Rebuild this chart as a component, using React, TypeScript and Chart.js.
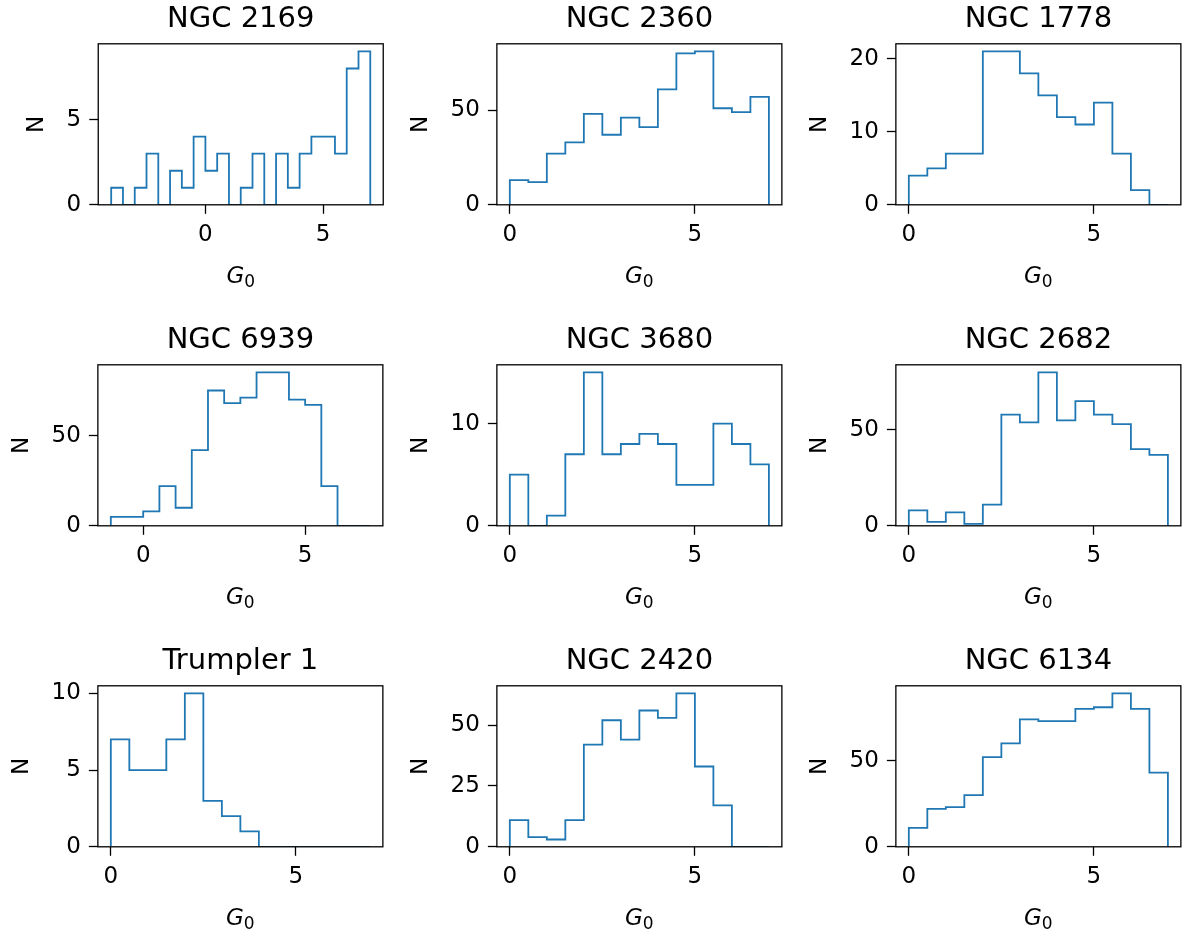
import React, { useEffect, useRef } from "react";
import { Chart, registerables } from "chart.js";

Chart.register(...registerables);

// ---- data (histogram counts, bin width 0.5) ----
const panelTitles = [
  "NGC 2169", "NGC 2360", "NGC 1778",
  "NGC 6939", "NGC 3680", "NGC 2682",
  "Trumpler 1", "NGC 2420", "NGC 6134",
];
const ngc2169Counts = [1, 0, 1, 3, 0, 2, 1, 4, 2, 3, 0, 1, 3, 0, 3, 1, 3, 4, 4, 3, 8, 9];
const ngc2360Counts = [13, 12, 27, 33, 48, 37, 46, 41, 61, 80, 81, 51, 49, 57];
const ngc1778Counts = [4, 5, 7, 7, 21, 21, 18, 15, 12, 11, 14, 7, 2, 0];
const ngc6939Counts = [5, 5, 8, 22, 10, 42, 75, 68, 71, 85, 85, 70, 67, 22, 0, 0];
const ngc3680Counts = [5, 0, 1, 7, 15, 7, 8, 9, 8, 4, 4, 10, 8, 6];
const ngc2682Counts = [8, 2, 7, 1, 11, 58, 54, 80, 55, 65, 58, 53, 40, 37];
const trumpler1Counts = [7, 5, 5, 7, 10, 3, 2, 1, 0, 0, 0, 0, 0, 0];
const ngc2420Counts = [11, 4, 3, 11, 42, 52, 44, 56, 53, 63, 33, 17, 0, 0];
const ngc6134Counts = [11, 22, 23, 30, 52, 60, 74, 73, 73, 80, 81, 89, 80, 43];

const panelCounts = [
  ngc2169Counts, ngc2360Counts, ngc1778Counts,
  ngc6939Counts, ngc3680Counts, ngc2682Counts,
  trumpler1Counts, ngc2420Counts, ngc6134Counts,
];
const binStarts = [-4, 0, 0, -1, 0, 0, 0, 0, 0];
const binWidth = 0.5;

const xTickValues = [0, 5];
const yTickValues = [
  [0, 5], [0, 50], [0, 10, 20],
  [0, 50], [0, 10], [0, 50],
  [0, 5, 10], [0, 25, 50], [0, 50],
];
const xAxisLabelMain = "G";
const xAxisLabelSub = "0";
const yAxisLabel = "N";

// ---- layout ----
const COL_LEFT = [98, 497, 896];
const ROW_TOP = [44, 365, 686];
const AX_W = 285;
const AX_H = 161;
const CW = 420;
const CH = 320;
const FONT = "'DejaVu Sans', sans-serif";
const LINE_COLOR = "#1f77b4";

function stepPoints(counts: number[], start: number) {
  const edges = counts.map((_, i) => start + i * binWidth);
  edges.push(start + counts.length * binWidth);
  const pts: { x: number; y: number }[] = [{ x: edges[0], y: 0 }];
  counts.forEach((c, i) => {
    pts.push({ x: edges[i], y: c });
    pts.push({ x: edges[i + 1], y: c });
  });
  pts.push({ x: edges[edges.length - 1], y: 0 });
  return { pts, lo: edges[0], hi: edges[edges.length - 1] };
}

const framePlugin = {
  id: "frame",
  afterDatasetsDraw(chart: any) {
    const { ctx, chartArea } = chart;
    ctx.save();
    ctx.strokeStyle = "#000";
    ctx.lineWidth = 1.3;
    ctx.strokeRect(chartArea.left, chartArea.top, chartArea.right - chartArea.left, chartArea.bottom - chartArea.top);
    ctx.restore();
  },
};

// x-axis label "G" (italic) with subscript "0"
const xLabelPlugin = {
  id: "xlabel",
  afterDraw(chart: any) {
    const { ctx, chartArea } = chart;
    ctx.save();
    ctx.fillStyle = "#000";
    ctx.textBaseline = "alphabetic";
    ctx.textAlign = "left";
    const mainFont = `italic 23px ${FONT}`;
    const subFont = `17px ${FONT}`;
    ctx.font = mainFont;
    const wMain = ctx.measureText(xAxisLabelMain).width;
    ctx.font = subFont;
    const wSub = ctx.measureText(xAxisLabelSub).width;
    const total = wMain + wSub;
    const cx = (chartArea.left + chartArea.right) / 2;
    const base = chartArea.bottom + 78;
    const x0 = cx - total / 2;
    ctx.font = mainFont;
    ctx.fillText(xAxisLabelMain, x0, base);
    ctx.font = subFont;
    ctx.fillText(xAxisLabelSub, x0 + wMain, base + 4);
    ctx.restore();
  },
};

export default function App() {
  const refs = useRef<(HTMLCanvasElement | null)[]>([]);

  useEffect(() => {
    Chart.defaults.font.family = FONT;
    Chart.defaults.color = "#000";
    const charts: Chart[] = [];
    panelCounts.forEach((counts, i) => {
      const canvas = refs.current[i];
      if (!canvas) return;
      const { pts, lo, hi } = stepPoints(counts, binStarts[i]);
      const span = hi - lo;
      const ymax = Math.max(...counts) * 1.05;
      const yt = yTickValues[i];
      const gridOpts = {
        display: true,
        drawOnChartArea: false,
        drawTicks: true,
        tickLength: 9,
        tickColor: "#000",
        tickWidth: 1.3,
      };
      const chart = new Chart(canvas, {
        type: "line",
        data: {
          datasets: [
            {
              data: pts,
              borderColor: LINE_COLOR,
              borderWidth: 1.8,
              pointRadius: 0,
              fill: false,
              tension: 0,
            },
          ],
        },
        options: {
          animation: false,
          responsive: false,
          maintainAspectRatio: false,
          events: [],
          layout: { padding: 0 },
          plugins: {
            legend: { display: false },
            tooltip: { enabled: false },
            title: {
              display: true,
              fullSize: false,
              text: panelTitles[i],
              color: "#000",
              font: { size: 29, weight: "normal", family: FONT },
              padding: { top: 4, bottom: 7 },
            },
          },
          scales: {
            x: {
              type: "linear",
              min: lo - 0.05 * span,
              max: hi + 0.05 * span,
              border: { display: false },
              grid: gridOpts,
              afterBuildTicks: (scale: any) => {
                scale.ticks = xTickValues.map((v) => ({ value: v }));
              },
              ticks: {
                font: { size: 23, family: FONT },
                color: "#000",
                padding: 7,
                maxRotation: 0,
                autoSkip: false,
              },
              title: { display: false },
            },
            y: {
              type: "linear",
              min: 0,
              max: ymax,
              border: { display: false },
              grid: gridOpts,
              afterBuildTicks: (scale: any) => {
                scale.ticks = yt.map((v) => ({ value: v }));
              },
              ticks: {
                font: { size: 23, family: FONT },
                color: "#000",
                padding: 8,
                autoSkip: false,
              },
              title: {
                display: true,
                text: yAxisLabel,
                color: "#000",
                font: { size: 23, family: FONT },
                padding: { top: 4, bottom: 8 },
              },
            },
          },
        } as any,
        plugins: [framePlugin, xLabelPlugin],
      });
      // place the plot area exactly where the panel belongs
      const ca = chart.chartArea;
      const yw = ca.left;
      const th = ca.top;
      const bh = CH - ca.bottom;
      (chart.options as any).layout.padding = {
        left: 0,
        top: 0,
        right: Math.max(0, CW - yw - AX_W),
        bottom: Math.max(0, CH - th - AX_H - bh),
      };
      chart.update();
      const col = i % 3;
      const row = Math.floor(i / 3);
      canvas.style.left = `${COL_LEFT[col] - chart.chartArea.left}px`;
      canvas.style.top = `${ROW_TOP[row] - chart.chartArea.top}px`;
      charts.push(chart);
    });
    return () => {
      charts.forEach((c) => c.destroy());
    };
  }, []);

  return (
    <div
      style={{
        position: "absolute",
        left: 0,
        top: 0,
        width: 1188,
        height: 938,
        overflow: "hidden",
        background: "#fff",
      }}
    >
      {panelTitles.map((t, i) => (
        <canvas
          key={t}
          ref={(el) => {
            refs.current[i] = el;
          }}
          width={CW}
          height={CH}
          style={{ position: "absolute", left: 0, top: 0, width: CW, height: CH }}
        />
      ))}
    </div>
  );
}
